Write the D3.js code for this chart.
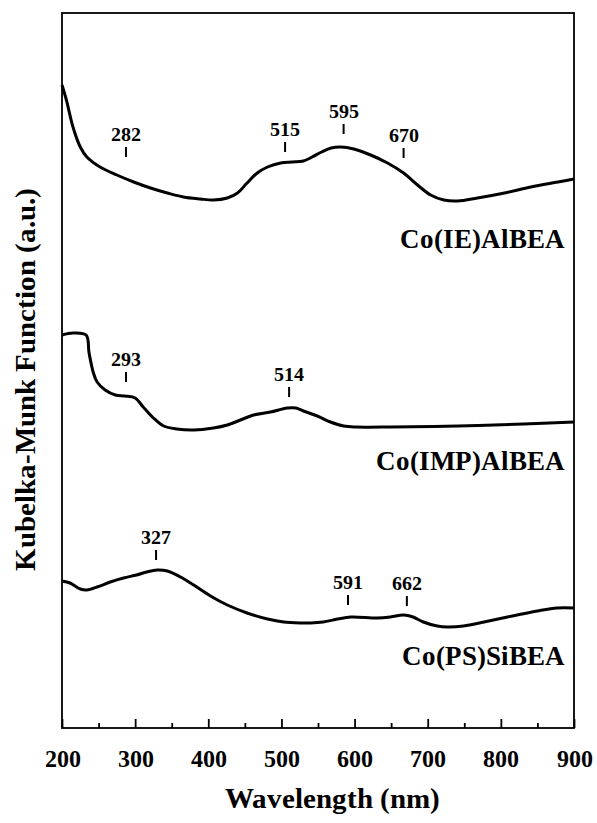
<!DOCTYPE html>
<html lang="en">
<head>
    <meta charset="UTF-8">
    <title>Kubelka-Munk spectra</title>
    <style>
        @font-face {
            font-family: "SerifBold";
            font-weight: bold;
            src: local("Liberation Serif Bold"), local("LiberationSerif-Bold"), local("Times New Roman Bold"), local("DejaVu Serif Bold"), local("DejaVuSerif-Bold");
        }
        body {
            margin: 0;
            background-color: #ffffff;
        }
        svg {
            display: block;
        }
        text {
            font-family: "SerifBold", "Liberation Serif", "Times New Roman", Tinos, FreeSerif, "DejaVu Serif", serif;
            font-weight: bold;
            fill: #000;
        }
    </style>
    <script src="https://d3js.org/d3.v7.min.js"></script>
</head>
<body>
    <svg width="597" height="823"></svg>

    <script>
        // wavelength (nm) and Kubelka-Munk values (a.u., curves already offset)
        const ieWave = [200, 206, 215, 225, 234, 252, 275, 298, 321, 344, 366, 389, 407, 426, 440, 453, 467, 481, 499, 515, 530, 542, 555, 568, 581, 599, 622, 645, 667, 686, 704, 722, 741, 768, 805, 841, 878, 900];
        const ieKM   = [6.43, 6.28, 6.01, 5.81, 5.71, 5.61, 5.53, 5.46, 5.40, 5.35, 5.31, 5.29, 5.28, 5.30, 5.35, 5.45, 5.55, 5.61, 5.65, 5.66, 5.67, 5.71, 5.76, 5.80, 5.81, 5.79, 5.73, 5.65, 5.55, 5.43, 5.33, 5.28, 5.27, 5.30, 5.35, 5.41, 5.46, 5.49];

        const impWave = [200, 215, 233, 237, 243, 248, 259, 273, 286, 300, 311, 325, 339, 357, 380, 407, 426, 444, 462, 485, 508, 520, 530, 549, 567, 585, 603, 649, 741, 831, 900];
        const impKM   = [3.93, 3.95, 3.93, 3.75, 3.55, 3.46, 3.38, 3.33, 3.32, 3.30, 3.21, 3.10, 3.02, 2.99, 2.98, 3.00, 3.03, 3.08, 3.13, 3.16, 3.20, 3.20, 3.17, 3.12, 3.06, 3.02, 3.01, 3.01, 3.02, 3.04, 3.06];

        const psWave = [200, 211, 225, 234, 248, 266, 284, 302, 316, 330, 344, 362, 380, 403, 426, 453, 481, 503, 526, 540, 557, 577, 595, 631, 649, 667, 680, 694, 713, 727, 749, 777, 809, 850, 877, 900];
        const psKM   = [1.47, 1.45, 1.39, 1.38, 1.41, 1.46, 1.50, 1.53, 1.56, 1.58, 1.57, 1.51, 1.43, 1.32, 1.23, 1.15, 1.09, 1.06, 1.05, 1.05, 1.06, 1.09, 1.11, 1.10, 1.11, 1.13, 1.11, 1.06, 1.02, 1.01, 1.02, 1.06, 1.11, 1.17, 1.20, 1.20];

        const seriesNames = ["Co(IE)AlBEA", "Co(IMP)AlBEA", "Co(PS)SiBEA"];
        const nameAnchorKM = [4.80, 2.58, 0.63];

        // band labels: text, position (nm) and value at the bottom of the marker
        const bandLabels = ["282", "515", "595", "670", "293", "514", "327", "591", "662"];
        const bandWave   = [287.5, 505, 585, 667, 287.5, 510.5, 328.6, 591, 671.5];
        const bandKM     = [5.71, 5.76, 5.94, 5.70, 3.46, 3.31, 1.68, 1.23, 1.22];

        const xTicks = [200, 300, 400, 500, 600, 700, 800, 900];
        const xMinorTicks = [250, 350, 450, 550, 650, 750, 850];

        const width = 597, height = 823;
        const margin = { top: 13, right: 23, bottom: 95, left: 62 };

        const svg = d3.select("svg");

        const x = d3.scaleLinear()
            .domain([200, 900])
            .range([margin.left, width - margin.right]);

        const y = d3.scaleLinear()
            .domain([0, 7.15])
            .range([height - margin.bottom, margin.top]);

        const series = [
            { name: seriesNames[0], w: ieWave, v: ieKM },
            { name: seriesNames[1], w: impWave, v: impKM },
            { name: seriesNames[2], w: psWave, v: psKM }
        ];

        const line = d3.line()
            .x(d => x(d[0]))
            .y(d => y(d[1]))
            .curve(d3.curveCatmullRom.alpha(0.5));

        // curves
        svg.append("g")
            .selectAll("path")
            .data(series)
            .enter().append("path")
            .attr("d", s => line(s.w.map((w, i) => [w, s.v[i]])))
            .attr("fill", "none")
            .attr("stroke", "#000")
            .attr("stroke-width", 3)
            .attr("stroke-linejoin", "round");

        // frame
        svg.append("rect")
            .attr("x", margin.left)
            .attr("y", margin.top)
            .attr("width", width - margin.left - margin.right)
            .attr("height", height - margin.top - margin.bottom)
            .attr("fill", "none")
            .attr("stroke", "#000")
            .attr("stroke-width", 1.8);

        // x axis, ticks point inward
        const axisY = height - margin.bottom;
        svg.append("g")
            .attr("transform", `translate(0,${axisY})`)
            .call(d3.axisBottom(x).tickValues(xTicks).tickSize(-9).tickPadding(22).tickFormat(d3.format("d")))
            .call(g => g.attr("font-family", null))
            .call(g => g.select(".domain").remove())
            .call(g => g.selectAll(".tick line").attr("stroke-width", 1.8))
            .call(g => g.selectAll(".tick text")
                .attr("font-size", 24)
                .attr("font-weight", "bold"));

        svg.append("g")
            .attr("transform", `translate(0,${axisY})`)
            .call(d3.axisBottom(x).tickValues(xMinorTicks).tickSize(-5).tickFormat(""))
            .call(g => g.select(".domain").remove())
            .call(g => g.selectAll(".tick line").attr("stroke-width", 1.8));

        // band markers
        const bands = bandLabels.map((t, i) => ({ t: t, w: bandWave[i], v: bandKM[i] }));

        svg.append("g")
            .selectAll("line")
            .data(bands)
            .enter().append("line")
            .attr("x1", d => x(d.w))
            .attr("x2", d => x(d.w))
            .attr("y1", d => y(d.v))
            .attr("y2", d => y(d.v) - 10)
            .attr("stroke", "#000")
            .attr("stroke-width", 2);

        svg.append("g")
            .selectAll("text")
            .data(bands)
            .enter().append("text")
            .attr("x", d => x(d.w))
            .attr("y", d => y(d.v) - 16)
            .attr("text-anchor", "middle")
            .attr("font-size", 20)
            .text(d => d.t);

        // sample names
        svg.append("g")
            .selectAll("text")
            .data(series)
            .enter().append("text")
            .attr("x", width - margin.right - 9)
            .attr("y", (d, i) => y(nameAnchorKM[i]))
            .attr("text-anchor", "end")
            .attr("font-size", 27)
            .text(d => d.name);

        // axis titles
        svg.append("text")
            .attr("x", 332)
            .attr("y", 808)
            .attr("text-anchor", "middle")
            .attr("font-size", 29)
            .text("Wavelength (nm)");

        svg.append("text")
            .attr("transform", "translate(35,379) rotate(-90)")
            .attr("text-anchor", "middle")
            .attr("font-size", 29)
            .text("Kubelka-Munk Function (a.u.)");
    </script>
</body>
</html>
